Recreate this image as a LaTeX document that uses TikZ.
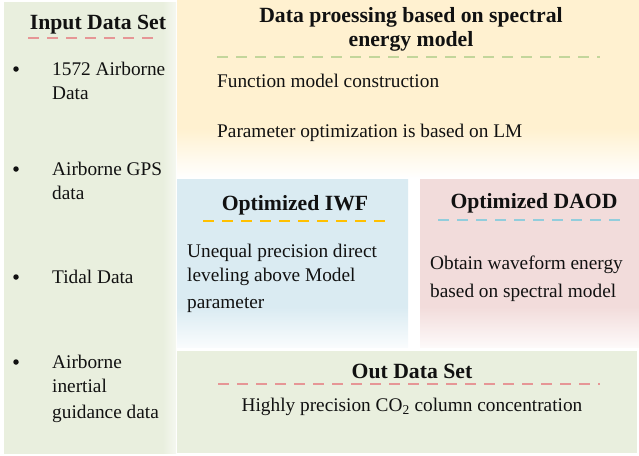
\documentclass[tikz,border=0pt]{standalone}
\usepackage{fontspec}
\setmainfont{Liberation Serif}
\usetikzlibrary{positioning}

\definecolor{boxgreen}{RGB}{233,239,222}
\definecolor{boxyellow}{RGB}{255,241,208}
\definecolor{boxblue}{RGB}{218,235,242}
\definecolor{boxpink}{RGB}{242,220,219}
\definecolor{dashred}{RGB}{230,150,150}
\definecolor{dashgreen}{RGB}{195,214,155}
\definecolor{dashgold}{RGB}{255,192,0}
\definecolor{dashblue}{RGB}{146,205,220}
\definecolor{txtdark}{RGB}{17,17,17}

% panel fills, fading out at the lower (or right) edge
\pgfdeclarehorizontalshading{fadegreen}{100bp}{color(0bp)=(boxgreen); color(71bp)=(boxgreen); color(75bp)=(boxgreen!45!white); color(100bp)=(white)}
\pgfdeclareverticalshading{fadeyellow}{100bp}{color(0bp)=(white); color(25bp)=(white); color(39bp)=(boxyellow); color(100bp)=(boxyellow)}
\pgfdeclareverticalshading{fadeblue}{100bp}{color(0bp)=(white); color(25bp)=(boxblue!15!white); color(37bp)=(boxblue); color(100bp)=(boxblue)}
\pgfdeclareverticalshading{fadepink}{100bp}{color(0bp)=(white); color(25bp)=(boxpink!15!white); color(37bp)=(boxpink); color(100bp)=(boxpink)}

% multi-line text whose baseline is the first line
\newcommand{\leftlines}[1]{\begin{tabular}[t]{@{}l@{}}#1\end{tabular}}
\newcommand{\midlines}[1]{\begin{tabular}[t]{@{}c@{}}#1\end{tabular}}

\tikzset{
  panel/.style={draw=none, inner sep=0pt, anchor=north west},
  paneltitle/.style={font=\fontsize{21.7}{24}\selectfont\bfseries, text=txtdark,
    inner sep=0pt, anchor=base},
  paneltext/.style={font=\fontsize{19.3}{24}\selectfont, text=txtdark,
    inner sep=0pt, anchor=base west},
  bullet/.style={circle, fill=txtdark, inner sep=0pt, minimum size=5.5pt},
  sepline/.style={line width=1.4pt, dash pattern=on 11pt off 8pt}
}

\begin{document}
\begin{tikzpicture}[x=1pt, y=-1pt]
  \useasboundingbox (0,0) rectangle (639,455);

  % Panels
  \node[panel, minimum width=172pt, minimum height=451pt, shade, shading=fadegreen] (inbox) at (4,2) {};
  \node[panel, minimum width=462pt, minimum height=178pt, shade, shading=fadeyellow] (procbox) at (177,0) {};
  \node[panel, minimum width=231pt, minimum height=168pt, shade, shading=fadeblue] (iwfbox) at (177,179) {};
  \node[panel, minimum width=219pt, minimum height=168pt, shade, shading=fadepink] (daodbox) at (420,179) {};
  \node[panel, minimum width=460pt, minimum height=102pt, fill=boxgreen] (outbox) at (177,351) {};

  % Input data set
  \node[paneltitle] (intitle) at (98,29) {Input Data Set};
  \draw[sepline, dashred] (28,38) -- (158,38);
  \node[bullet] (b1) at (16,69) {};
  \node[paneltext] (in1) at (52,75) {\leftlines{1572 Airborne\\Data}};
  \node[bullet] (b2) at (16,169) {};
  \node[paneltext] (in2) at (52,175) {\leftlines{Airborne GPS\\data}};
  \node[bullet] (b3) at (16,277) {};
  \node[paneltext] (in3) at (52,283) {Tidal Data};
  \node[bullet] (b4) at (16,362) {};
  \node[paneltext] (in4) at (52,368) {\leftlines{Airborne\\inertial\\[2pt]guidance data}};

  % Data processing
  \node[paneltitle] (proctitle) at (411,22) {\midlines{Data proessing based on spectral\\energy model}};
  \draw[sepline, dashgreen] (217,57) -- (600,57);
  \node[paneltext] (proc1) at (217,87) {Function model construction};
  \node[paneltext] (proc2) at (217,137) {Parameter optimization is based on LM};

  % Optimized IWF
  \node[paneltitle] (iwftitle) at (295,210) {Optimized IWF};
  \draw[sepline, dashgold] (203,221) -- (388,221);
  \node[paneltext] (iwf1) at (187,257) {\leftlines{Unequal precision direct\\leveling above Model\\[3pt]parameter}};

  % Optimized DAOD
  \node[paneltitle] (daodtitle) at (534,208) {Optimized DAOD};
  \draw[sepline, dashblue] (438,220) -- (624,220);
  \node[paneltext] (daod1) at (430,269) {\leftlines{Obtain waveform energy\\[4pt]based on spectral model}};

  % Output data set
  \node[paneltitle] (outtitle) at (412,378) {Out Data Set};
  \draw[sepline, dashred] (218,384) -- (600,384);
  \node[paneltext, anchor=base] (out1) at (412,411) {Highly precision CO\textsubscript{2} column concentration};
\end{tikzpicture}
\end{document}
